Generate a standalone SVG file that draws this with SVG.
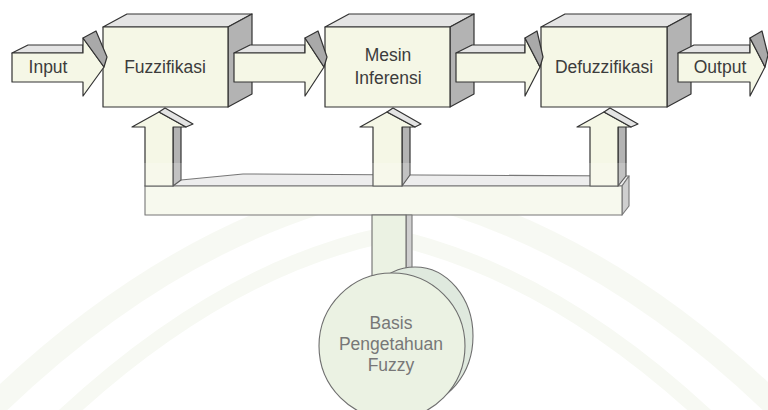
<svg xmlns="http://www.w3.org/2000/svg" width="768" height="410" viewBox="0 0 768 410">
  <style>
    .front { fill: #f5f7e6; stroke: #333; stroke-width: 1.2; stroke-linejoin: round; }
    .top { fill: #e4e4e4; stroke: #333; stroke-width: 1.2; stroke-linejoin: round; }
    .side { fill: #b3b3b3; stroke: #333; stroke-width: 1.2; stroke-linejoin: round; }
    .slope { fill: #a9a9a9; stroke: #333; stroke-width: 1.2; stroke-linejoin: round; }
    .low { fill: #f6f8ea; stroke: #555; stroke-width: 1.1; stroke-linejoin: round; }
    .lowtop { fill: #e9e9e9; stroke: #555; stroke-width: 1.1; stroke-linejoin: round; }
    .lowside { fill: #c4c4c4; stroke: #555; stroke-width: 1.1; stroke-linejoin: round; }
    .green { fill: #e6efdc; stroke: #4a4a4a; stroke-width: 1.1; }
    .green2 { fill: #d8e4d6; stroke: #4a4a4a; stroke-width: 1.1; }
    .lbl { font-family: "Liberation Sans", Arial, sans-serif; font-size: 17.5px; fill: #3c3c3c; text-anchor: middle; }
    .lbl2 { font-family: "Liberation Sans", Arial, sans-serif; font-size: 17.5px; fill: #555; text-anchor: middle; }
  </style>

  <rect x="0" y="0" width="768" height="410" fill="#ffffff"/>

  <!-- faint background arches -->
  <g id="backdrop" fill="none" stroke-linecap="round">
    <path d="M -20 420 Q 170 230 384 185 Q 600 230 790 420" stroke="#f6f8f1" stroke-width="24"/>
    <path d="M 60 420 Q 220 270 384 235 Q 550 270 710 420" stroke="#f5f8f0" stroke-width="16"/>
  </g>

  <!-- processing blocks -->
  <g id="fuzzifikasi">
    <polygon class="top" points="103,27 127,14 252,14 228,27"/>
    <polygon class="side" points="228,27 252,14 252,94 228,107"/>
    <rect class="front" x="103" y="27" width="125" height="80"/>
    <text class="lbl" x="165" y="73">Fuzzifikasi</text>
  </g>

  <g id="mesin-inferensi">
    <polygon class="top" points="325,27 349,14 474,14 450,27"/>
    <polygon class="side" points="450,27 474,14 474,94 450,107"/>
    <rect class="front" x="325" y="27" width="125" height="80"/>
    <text class="lbl" x="388" y="61">Mesin</text>
    <text class="lbl" x="388" y="84">Inferensi</text>
  </g>

  <g id="defuzzifikasi">
    <polygon class="top" points="541,27 565,14 691,14 667,27"/>
    <polygon class="side" points="667,27 691,14 691,94 667,107"/>
    <rect class="front" x="541" y="27" width="126" height="80"/>
    <text class="lbl" x="604" y="73">Defuzzifikasi</text>
  </g>

  <g id="connectors">
    <!-- Input arrow -->
    <g id="arrow-input">
      <polygon class="top" points="12,53 28,45 83,45 83,53"/>
      <polygon class="front" points="12,53 83,53 83,38 104,67 83,96 83,82 12,82"/>
      <polygon class="slope" points="83,38 96,31 107,57 104,67"/>
      <text class="lbl" x="48" y="73">Input</text>
    </g>
    <!-- Fuzzifikasi to Mesin Inferensi -->
    <g id="arrow-1-2">
      <polygon class="top" points="234,53 250,45 305,45 305,53"/>
      <polygon class="front" points="234,53 305,53 305,38 324,67 305,96 305,82 234,82"/>
      <polygon class="slope" points="305,38 318,31 327,57 324,67"/>
    </g>
    <!-- Mesin Inferensi to Defuzzifikasi -->
    <g id="arrow-2-3">
      <polygon class="top" points="456,53 472,45 525,45 525,53"/>
      <polygon class="front" points="456,53 525,53 525,38 540,67 525,96 525,82 456,82"/>
      <polygon class="slope" points="525,38 537,31 543,57 540,67"/>
    </g>
    <!-- Output arrow -->
    <g id="arrow-output">
      <polygon class="top" points="678,53 694,45 750,45 750,53"/>
      <polygon class="front" points="678,53 750,53 750,38 765,67 750,96 750,82 678,82"/>
      <polygon class="slope" points="750,38 762,31 768,55 765,67"/>
      <text class="lbl" x="720" y="73">Output</text>
    </g>

    <!-- distribution bar -->
    <polygon class="lowtop" points="145,186 622,186 629,176 420,175 243,174 181,180"/>
    <polygon class="lowside" points="622,186 629,176 629,206 622,215"/>
    <rect class="low" x="145" y="186" width="477" height="29"/>

    <!-- upward arrows into the blocks -->
    <g id="up-fuzzifikasi">
      <polygon class="side" points="173,127 181,124 181,180 173,186"/>
      <polygon class="front" points="145,186 145,127 132,127 159,112 186,127 173,127 173,186"/>
      <polygon class="top" points="159,112 165,108 193,124 186,127"/>
    </g>
    <g id="up-mesin">
      <polygon class="side" points="402,127 410,124 410,175 402,186"/>
      <polygon class="front" points="373,186 373,127 360,127 387,112 415,127 402,127 402,186"/>
      <polygon class="top" points="387,112 393,108 421,124 415,127"/>
    </g>
    <g id="up-defuzzifikasi">
      <polygon class="side" points="618,127 626,124 626,176 618,186"/>
      <polygon class="front" points="590,186 590,127 577,127 604,112 631,127 618,127 618,186"/>
      <polygon class="top" points="604,112 610,108 638,124 631,127"/>
    </g>

    <!-- stem down to the knowledge base -->
    <polygon class="lowside" points="406,215 412,215 412,268 406,276"/>
    <rect class="green" x="372" y="215" width="34" height="61"/>
  </g>

  <g id="basis-pengetahuan">
    <ellipse class="green2" cx="415" cy="336" rx="58" ry="69"/>
    <circle class="green" cx="392" cy="346" r="73"/>
    <text class="lbl2" x="391" y="329">Basis</text>
    <text class="lbl2" x="391" y="350">Pengetahuan</text>
    <text class="lbl2" x="391" y="371">Fuzzy</text>
  </g>

  <!-- light wash over the lower half -->
  <rect x="0" y="163" width="768" height="247" fill="#ffffff" opacity="0.2"/>
</svg>
